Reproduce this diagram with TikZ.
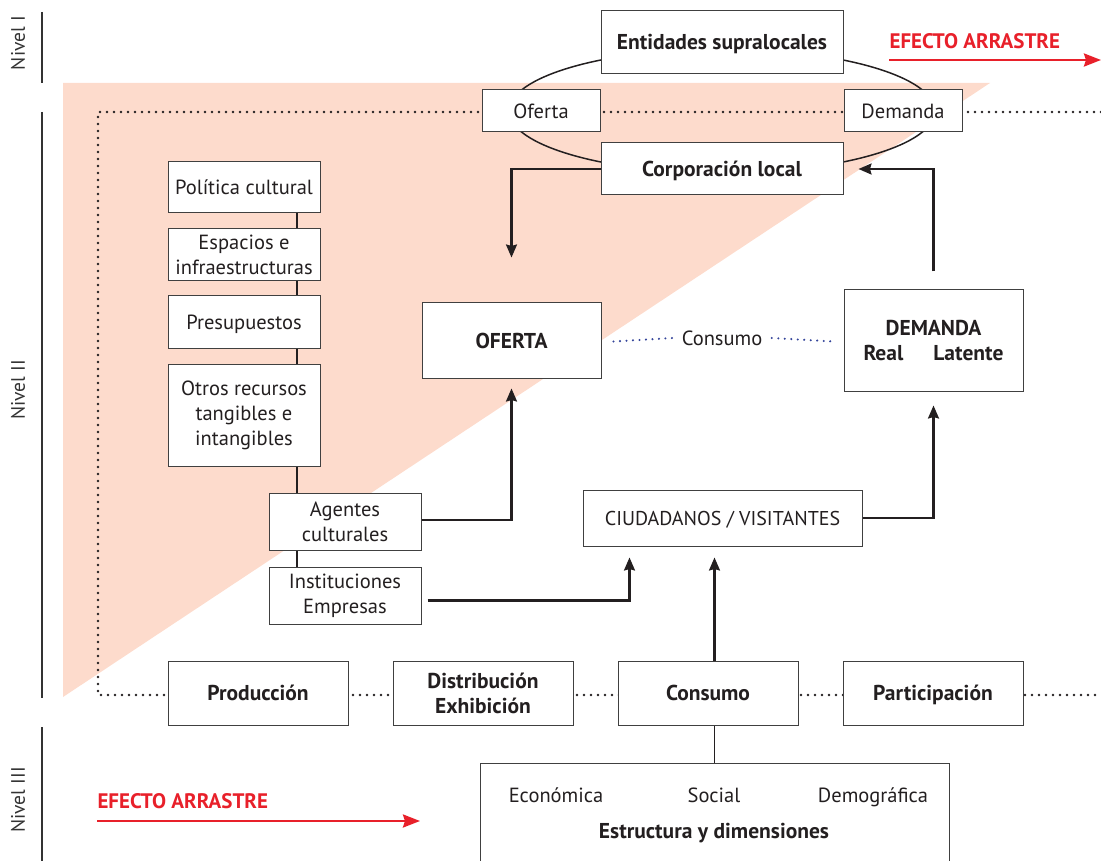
\documentclass[tikz,border=0pt]{standalone}
\usepackage{fontspec}
\setmainfont{PT Sans}
\usetikzlibrary{arrows.meta,calc}
\definecolor{salmon}{HTML}{FDDBCC}
\definecolor{redA}{HTML}{E8202A}
\definecolor{navyD}{HTML}{34449A}
\definecolor{txt}{HTML}{231F20}
\begin{document}
\begin{tikzpicture}[x=1pt,y=-1pt,
  every node/.style={font=\fontsize{20.5}{25}\selectfont, text=txt},
  box/.style={draw=black!75, line width=1pt, fill=white, inner sep=0pt, align=center},
  bbox/.style={box, font=\fontsize{21.5}{25}\selectfont\bfseries},
  sl/.style={text height=15pt, text depth=0pt},
  arr/.style={draw=txt, line width=2.1pt, -{Stealth[length=13pt,width=11pt,inset=1.5pt]}},
  conn/.style={draw=txt, line width=1.6pt},
  dots/.style={draw=txt, line width=2.6pt, line cap=round, dash pattern=on 0pt off 7pt},
  bdots/.style={draw=navyD, line width=2.3pt, line cap=round, dash pattern=on 0pt off 6.5pt},
  redarr/.style={draw=redA, line width=2.4pt, -{Stealth[length=17pt,width=13pt,inset=2pt]}},
  nivel/.style={rotate=90, font=\fontsize{19.5}{22}\selectfont, text=black!80},
  redtxt/.style={font=\fontsize{21}{23}\selectfont\bfseries, text=redA, anchor=west}
]
\useasboundingbox (0,0) rectangle (1101,861);
% background triangle
\fill[salmon] (63,83) -- (990,83) -- (63,697) -- cycle;
% nivel lines and labels
\draw[black!80, line width=1.2pt] (42,12) -- (42,83);
\draw[black!80, line width=1.2pt] (42,112) -- (42,698);
\draw[black!80, line width=1.2pt] (42,727) -- (42,861);
\node[nivel] (n1) at (18,43) {Nivel I};
\node[nivel] (n2) at (18,390) {Nivel II};
\node[nivel] (n3) at (18,800) {Nivel III};
% dotted frame
\coordinate (dtl) at (98,112);
\coordinate (dtr) at (1101,112);
\coordinate (dbl) at (98,695);
\coordinate (dbr) at (1101,695);
\draw[dots] (dtr) -- (dtl) -- (dbl) -- (dbr);
% ellipse
\draw[txt, line width=1.5pt] (722,111) ellipse [x radius=213, y radius=62];
% top cluster
\node[bbox, sl, minimum width=242, minimum height=63] (ent) at (722,42.5) {Entidades supralocales};
\node[box, sl, minimum width=118, minimum height=42] (ofer) at (541,111) {Oferta};
\node[box, sl, minimum width=118, minimum height=42] (dem) at (903,111) {Demanda};
\node[bbox, sl, minimum width=242, minimum height=52] (corp) at (722,169) {Corporación local};
% left column
\node[box, sl, minimum width=152, minimum height=51] (pol) at (244,187.5) {Política cultural};
\node[box, minimum width=152, minimum height=52] (esp) at (244,255) {Espacios e\\infraestructuras};
\node[box, sl, minimum width=152, minimum height=52] (pre) at (244,322) {Presupuestos};
\node[box, minimum width=152, minimum height=102] (otr) at (244,415) {Otros recursos\\tangibles e\\intangibles};
\node[box, minimum width=152, minimum height=57] (age) at (345,521.5) {Agentes\\culturales};
\node[box, minimum width=152, minimum height=57] (ins) at (345,595.5) {Instituciones\\Empresas};
\draw[conn] (pol.south -| 297,0) -- (esp.north -| 297,0);
\draw[conn] (esp.south -| 297,0) -- (pre.north -| 297,0);
\draw[conn] (pre.south -| 297,0) -- (otr.north -| 297,0);
\draw[conn] (otr.south -| 297,0) -- (age.north -| 297,0);
\draw[conn] (age.south -| 297,0) -- (ins.north -| 297,0);
% oferta / demanda
\node[bbox, sl, minimum width=179, minimum height=75] (oferta) at (511.5,340.5) {OFERTA};
\node[bbox, minimum width=179, minimum height=101] (demanda) at (933.5,340.5) {DEMANDA\\Real\hspace{1.4em}Latente};
\node[sl] (consl) at (722,338) {Consumo};
\draw[bdots] ([xshift=12pt,yshift=-1pt]oferta.east) -- ([xshift=-6pt]consl.west);
\draw[bdots] ([xshift=6pt]consl.east) -- ([xshift=-10pt,yshift=-1pt]demanda.west);
\node[box, sl, minimum width=279, minimum height=56, font=\fontsize{20}{22}\selectfont] (ciu) at (722.5,518) {CIUDADANOS / VISITANTES};
% bottom row
\node[bbox, sl, minimum width=180, minimum height=64] (prod) at (258,693) {Producción};
\node[bbox, minimum width=180, minimum height=64] (dist) at (483,693) {Distribución\\Exhibición};
\node[bbox, sl, minimum width=180, minimum height=64] (cons) at (708,693) {Consumo};
\node[bbox, sl, minimum width=180, minimum height=64] (part) at (933,693) {Participación};
% estructura
\node[box, minimum width=469, minimum height=110] (est) at (714.5,818) {};
\node[anchor=base] (eco) at (556,802) {Económica};
\node[anchor=base] (soc) at (714,802) {Social};
\node[anchor=base] (dmg) at (873,802) {Demográfica};
\node[anchor=base, font=\fontsize{21.5}{23}\selectfont\bfseries] (estt) at (714,838) {Estructura y dimensiones};
\draw[conn] (est.north) -- (est.north |- cons.south);
% arrows
\draw[arr] (corp.west) -| ([yshift=45pt]oferta.north);
\draw[arr] ([yshift=18pt]demanda.north) |- ([xshift=15pt]corp.east);
\draw[arr] ([yshift=1.5pt]age.east) -| ([yshift=-10pt]oferta.south);
\draw[arr] (ciu.east) -| ([yshift=-14pt]demanda.south);
\draw[arr] ([xshift=6pt,yshift=-5pt]ins.east) -| ($(ciu.south west)+(47,11)$);
\draw[arr] (est.north |- cons.north) -- (est.north |- {$(ciu.south)+(0,11)$});
% efecto arrastre
\node[redtxt] (ea1) at (886,41) {EFECTO ARRASTRE};
\coordinate (ea1e) at (1101,60);
\draw[redarr] (ea1.west |- ea1e) ++(3,0) -- (ea1e);
\node[redtxt] (ea2) at (94,801) {EFECTO ARRASTRE};
\coordinate (ea2e) at (420,821);
\draw[redarr] (ea2.west |- ea2e) ++(3,0) -- (ea2e);
\end{tikzpicture}
\end{document}
